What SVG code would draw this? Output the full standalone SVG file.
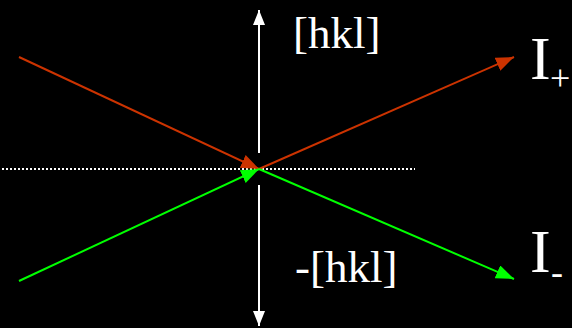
<svg xmlns="http://www.w3.org/2000/svg" width="572" height="328" viewBox="0 0 572 328">
<style>
.t{font-family:"Liberation Serif","Times New Roman",serif;fill:#fff}
.w{stroke:#fff;stroke-width:2;fill:none}
.r{stroke:#CC3300;stroke-width:2;fill:none}
.g{stroke:#00FF00;stroke-width:2;fill:none}
</style>
<defs>
<marker id="aw" viewBox="0 0 10 10" refX="10" refY="5" markerWidth="15" markerHeight="12" markerUnits="userSpaceOnUse" orient="auto" preserveAspectRatio="none"><path d="M0,0L10,5L0,10z" fill="#fff"/></marker>
<marker id="ar" viewBox="0 0 10 10" refX="10" refY="5" markerWidth="18" markerHeight="14" markerUnits="userSpaceOnUse" orient="auto" preserveAspectRatio="none"><path d="M0,0L10,5L0,10z" fill="#CC3300"/></marker>
<marker id="ag" viewBox="0 0 10 10" refX="10" refY="5" markerWidth="18" markerHeight="14" markerUnits="userSpaceOnUse" orient="auto" preserveAspectRatio="none"><path d="M0,0L10,5L0,10z" fill="#00FF00"/></marker>
</defs>
<rect width="572" height="328" fill="#000"/>
<g id="connectors">
<line x1="2" y1="169" x2="415" y2="169" stroke="#fff" stroke-width="2" stroke-dasharray="2,2"/>
<line class="w" x1="259" y1="153" x2="259" y2="10" marker-end="url(#aw)"/>
<line class="w" x1="259" y1="185" x2="259" y2="326" marker-end="url(#aw)"/>
<line class="r" x1="19" y1="57" x2="259" y2="169" marker-end="url(#ar)"/>
<line class="r" x1="259" y1="169" x2="514" y2="57" marker-end="url(#ar)"/>
<line class="g" x1="19" y1="281" x2="259" y2="169" marker-end="url(#ag)"/>
<line class="g" x1="259" y1="169" x2="514" y2="279" marker-end="url(#ag)"/>
</g>
<g id="hkl"><text class="t" x="293" y="48" font-size="45">[hkl]</text></g>
<g id="mhkl"><text class="t" x="295" y="282" font-size="45">-[hkl]</text></g>
<g id="Iplus"><text class="t" x="530" y="79" font-size="62">I</text><text class="t" x="550" y="90" font-size="36">+</text></g>
<g id="Iminus"><text class="t" x="530" y="272" font-size="62">I</text><text class="t" x="551" y="284" font-size="36">-</text></g>
</svg>
